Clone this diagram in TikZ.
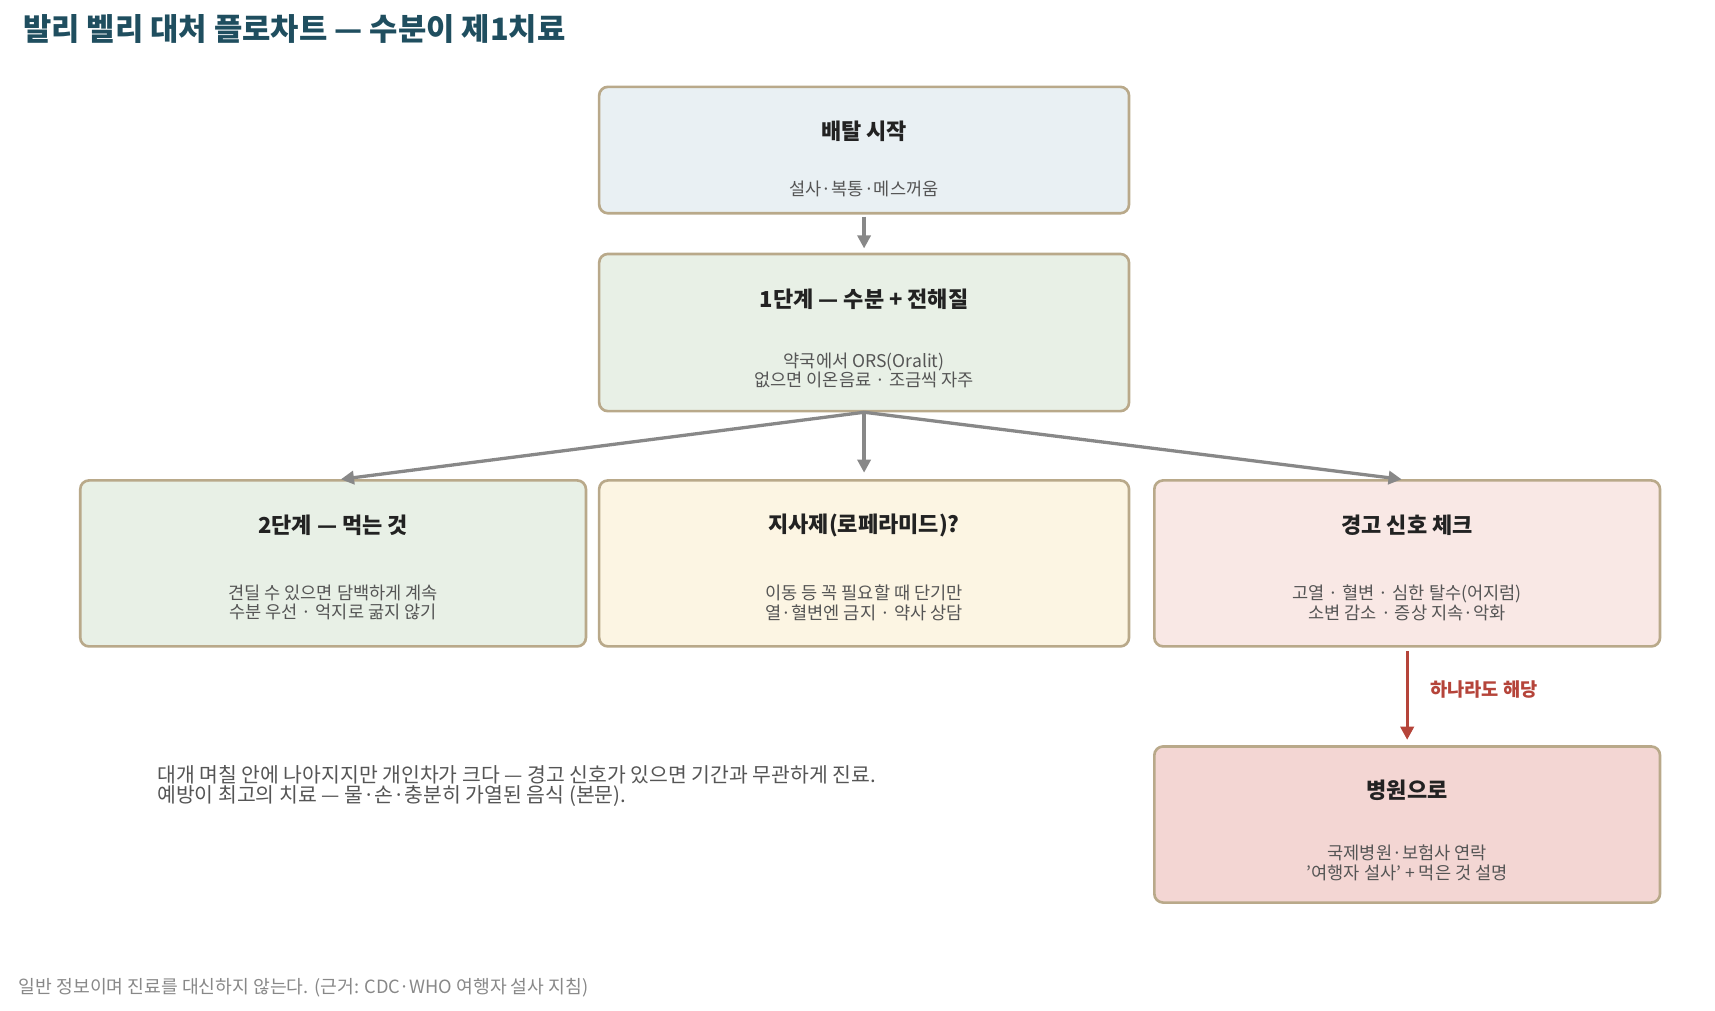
\documentclass[tikz,border=0pt]{standalone}
\usepackage{fontspec}
\setmainfont{Noto Sans CJK KR}
\usetikzlibrary{arrows.meta}
\definecolor{bord}{HTML}{B9A98A}
\definecolor{fA}{HTML}{E9F0F3}
\definecolor{fG}{HTML}{E8F0E6}
\definecolor{fY}{HTML}{FCF5E3}
\definecolor{fP}{HTML}{F9E8E5}
\definecolor{fR}{HTML}{F3D6D3}
\definecolor{ttl}{HTML}{1F4E5F}
\definecolor{txt}{HTML}{222222}
\definecolor{sub}{HTML}{555555}
\definecolor{arr}{HTML}{888888}
\definecolor{red}{HTML}{B5443A}
\begin{document}
\begin{tikzpicture}[x=0.5pt,y=-0.5pt,
 box/.style={draw=bord,line width=1.2pt,rounded corners=4pt},
 bt/.style={font=\bfseries\fontsize{10}{12}\selectfont,text=txt},
 bs/.style={font=\fontsize{8}{9}\selectfont,text=sub,align=center},
 ar/.style={draw=arr,line width=1.5pt,-{Triangle[length=6pt,width=6pt]}}]
\useasboundingbox (0,0) rectangle (1560,919);
\node[anchor=west,font=\bfseries\fontsize{14}{16}\selectfont,text=ttl] (title) at (14,26) {발리 벨리 대처 플로차트 — 수분이 제1치료};
% boxes
\draw[box,fill=fA] (545,79) rectangle (1027,194);
\node (start) at (786,136.5) [minimum width=241pt,minimum height=57.5pt] {};
\node[bt] (t1) at (786,119) {배탈 시작};
\node[bs] (s1) at (786,172) {설사·복통·메스꺼움};
\draw[box,fill=fG] (545,231) rectangle (1027,374);
\node (st1) at (786,302.5) [minimum width=241pt,minimum height=71.5pt] {};
\node[bt] (t2) at (786,272) {1단계 — 수분 + 전해질};
\node[bs] (s2) at (786,337) {약국에서 ORS(Oralit)\\없으면 이온음료 · 조금씩 자주};
\draw[box,fill=fG] (73,437) rectangle (533,588);
\node[bt] (t3) at (303,478) {2단계 — 먹는 것};
\node[bs] (s3) at (303,548) {견딜 수 있으면 담백하게 계속\\수분 우선 · 억지로 굶지 않기};
\draw[box,fill=fY] (545,437) rectangle (1027,588);
\node[bt] (t4) at (786,478) {지사제(로페라미드)?};
\node[bs] (s4) at (786,548) {이동 등 꼭 필요할 때 단기만\\열·혈변엔 금지 · 약사 상담};
\draw[box,fill=fP] (1050,437) rectangle (1510,588);
\node[bt] (t5) at (1280,478) {경고 신호 체크};
\node[bs] (s5) at (1280,548) {고열 · 혈변 · 심한 탈수(어지럼)\\소변 감소 · 증상 지속·악화};
\draw[box,fill=fR] (1050,679) rectangle (1510,821);
\node[bt] (t6) at (1280,719) {병원으로};
\node[bs] (s6) at (1280,785) {국제병원·보험사 연락\\\symbol{"27}여행자 설사\symbol{"27} + 먹은 것 설명};
% connectors
\coordinate (a0) at (786,197); \coordinate (a1) at (786,226);
\coordinate (b0) at (786,375);
\coordinate (b1) at (310,436); \coordinate (b2) at (786,430); \coordinate (b3) at (1275,436);
\coordinate (c0) at (1280,592); \coordinate (c1) at (1280,673);
\draw[ar] (a0) -- (a1);
\draw[ar] (b0) -- (b1);
\draw[ar] (b0) -- (b2);
\draw[ar] (b0) -- (b3);
\draw[ar,draw=red,fill=red] (c0) -- (c1);
\node[anchor=west,font=\bfseries\fontsize{8.5}{10}\selectfont,text=red] (lab) at (1294,627) {하나라도 해당};
\node[anchor=west,align=left,font=\fontsize{9.3}{9}\selectfont,text=sub] (note) at (136,715) {대개 며칠 안에 나아지지만 개인차가 크다 — 경고 신호가 있으면 기간과 무관하게 진료.\\예방이 최고의 치료 — 물·손·충분히 가열된 음식 (본문).};
\node[anchor=west,font=\fontsize{8.3}{9}\selectfont,text=arr] (foot) at (10,898) {일반 정보이며 진료를 대신하지 않는다. (근거: CDC·WHO 여행자 설사 지침)};
\end{tikzpicture}
\end{document}
